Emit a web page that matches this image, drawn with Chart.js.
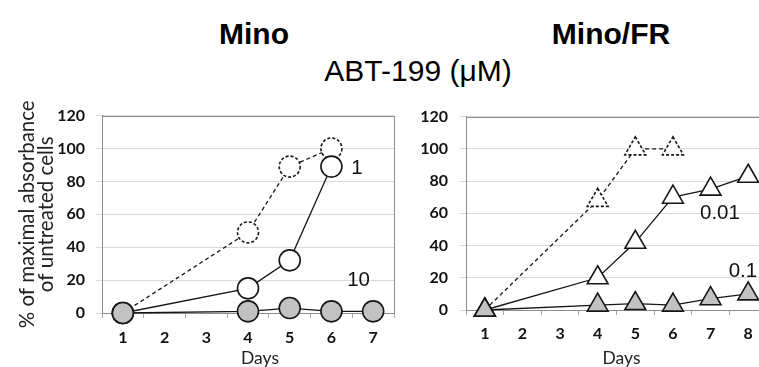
<!DOCTYPE html>
<html>
<head>
<meta charset="utf-8">
<title>ABT-199 growth curves</title>
<script src="https://cdn.jsdelivr.net/npm/chart.js@4.4.1/dist/chart.umd.min.js"></script>
<style>
  html, body { margin: 0; padding: 0; background: #fff; }
  body { width: 759px; height: 367px; overflow: hidden; position: relative;
         font-family: "Liberation Sans", Arial, sans-serif; color: #000; }
  .ttl { position: absolute; white-space: nowrap; font-size: 30px; line-height: 30px;
         transform: translateX(-50%); }
  .ttl.bold { font-weight: bold; }
  .panel { position: absolute; top: 95px; height: 272px; }
  #minoBox { left: 0; width: 400px; }
  #frBox { left: 400px; width: 370px; }
</style>
</head>
<body>
<div class="ttl bold" style="left:254px; top:19px;">Mino</div>
<div class="ttl bold" style="left:611px; top:19px;">Mino/FR</div>
<div class="ttl" style="left:418px; top:56px;">ABT-199 (μM)</div>

<div class="panel" id="minoBox"><canvas id="mino" width="400" height="272"></canvas></div>
<div class="panel" id="frBox"><canvas id="fr" width="370" height="272"></canvas></div>

<script>
// Day labels of the two time courses
const minoDays = ['1', '2', '3', '4', '5', '6', '7'];
const frDays = ['1', '2', '3', '4', '5', '6', '7', '8'];

// Value axis: % of maximal absorbance of untreated cells
const yMin = 0;
const yMax = 120;
const yStep = 20;

// Mino (null = day not measured)
const minoUntreated = [0, null, null, 49, 89, 100, null];
const mino1uM      = [0, null, null, 15, 32, 89, null];
const mino10uM     = [0, null, null, 1, 3, 1, 1];

// Mino/FR
const frUntreated = [0, null, null, 68, 100, 100, null, null];
const fr001uM     = [0, null, null, 20, 42, 70, 75, 83];
const fr01uM      = [0, null, null, 3, 4, 3, 7, 10];

// ABT-199 concentrations written next to the curves (µM)
const minoDoses = ['1', '10'];
const frDoses = ['0.01', '0.1'];

const INK = '#161616';
const GREY_FILL = '#c2c2c2';
const FRAME = '#8c8c8c';
const GRID = '#d9d9d9';
const TICK_FONT = { family: 'Lato', size: 16, weight: 'bold' };

// Dashed outline for markers: points are drawn after the line has restored
// its own dash, so the marker strokes pick up whatever dash is set here.
const markerDash = {
  id: 'markerDash',
  beforeDatasetDraw(chart, args) {
    const ds = chart.data.datasets[args.index];
    chart.ctx.save();
    if (ds.markerDash) chart.ctx.setLineDash(ds.markerDash);
  },
  afterDatasetDraw(chart) {
    chart.ctx.restore();
  }
};

// Full box around the plotting area
const plotFrame = {
  id: 'plotFrame',
  beforeDatasetsDraw(chart) {
    const a = chart.chartArea, ctx = chart.ctx;
    ctx.save();
    ctx.strokeStyle = FRAME;
    ctx.lineWidth = 1;
    ctx.strokeRect(Math.round(a.left) + 0.5, Math.round(a.top) + 0.5,
                   Math.round(a.right - a.left), Math.round(a.bottom - a.top));
    ctx.restore();
  }
};

// Dose captions placed in data space, plus the "Days" caption under the axis
const captions = {
  id: 'captions',
  afterDraw(chart, args, opts) {
    const ctx = chart.ctx, xs = chart.scales.x, ys = chart.scales.y;
    ctx.save();
    ctx.fillStyle = '#111';
    ctx.textAlign = 'center';
    ctx.textBaseline = 'middle';
    ctx.font = '20.5px "Liberation Sans", Arial, sans-serif';
    (opts.doses || []).forEach(d => {
      ctx.fillText(d.text, xs.getPixelForValue(d.x), ys.getPixelForValue(d.y));
    });
    ctx.font = '17.5px Lato, sans-serif';
    ctx.fillStyle = '#222';
    const a = chart.chartArea;
    ctx.fillText('Days', (a.left + a.right) / 2 + (opts.daysShift || 0), opts.daysY);
    ctx.restore();
  }
};

function series(data, style) {
  return Object.assign({
    data: data,
    spanGaps: true,
    borderColor: INK,
    borderWidth: 1.3,
    pointBorderColor: INK,
    pointBorderWidth: 1.6,
    pointBackgroundColor: '#ffffff',
    clip: false,
    tension: 0
  }, style);
}

function makeChart(canvasId, labels, datasets, cfg) {
  return new Chart(document.getElementById(canvasId), {
    type: 'line',
    data: { labels: labels, datasets: datasets },
    options: {
      responsive: false,
      animation: false,
      events: [],
      layout: { padding: cfg.padding, autoPadding: false },
      plugins: {
        legend: { display: false },
        tooltip: { enabled: false },
        captions: cfg.captions
      },
      scales: {
        x: {
          type: 'category',
          offset: true,
          grid: { display: true, offset: true, drawOnChartArea: false, drawTicks: true,
                  tickLength: 5, color: '#a6a6a6' },
          border: { display: true, color: FRAME },
          ticks: { font: TICK_FONT, color: '#111', padding: cfg.xPad, maxRotation: 0, autoSkip: false },
          afterFit(s) { s.height = cfg.xHeight; }
        },
        y: {
          min: yMin, max: yMax,
          grid: { color: GRID, tickLength: 6, drawTicks: true },
          border: { display: true, color: FRAME },
          ticks: { stepSize: yStep, font: TICK_FONT, color: '#111', padding: cfg.yPad },
          title: cfg.yTitle,
          afterFit(s) { s.width = cfg.yWidth; }
        }
      }
    },
    plugins: [markerDash, plotFrame, captions]
  });
}

function build() {
  makeChart('mino', minoDays, [
    series(mino10uM, { pointStyle: 'circle', pointRadius: 10.5, pointBackgroundColor: GREY_FILL }),
    series(mino1uM, { pointStyle: 'circle', pointRadius: 10.5 }),
    series(minoUntreated, { pointStyle: 'circle', pointRadius: 10.5, borderDash: [4, 3],
                            markerDash: [3, 2] })
  ], {
    padding: { left: 0, top: 18, right: 6, bottom: 0 },
    xHeight: 54, yWidth: 102, xPad: 10, yPad: 11,
    yTitle: {
      display: true,
      text: ['% of maximal absorbance', 'of untreated cells'],
      font: { family: 'Lato', size: 20.5, lineHeight: 0.92 },
      color: '#222',
      padding: { top: 18, bottom: 0 }
    },
    captions: {
      doses: [
        { text: minoDoses[0], x: 5.61, y: 88 },
        { text: minoDoses[1], x: 5.65, y: 20 }
      ],
      daysShift: 12, daysY: 263
    }
  });

  makeChart('fr', frDays, [
    series(fr01uM, { pointStyle: 'triangle', pointRadius: 12, pointBackgroundColor: GREY_FILL }),
    series(fr001uM, { pointStyle: 'triangle', pointRadius: 12 }),
    series(frUntreated, { pointStyle: 'triangle', pointRadius: 12, borderDash: [4, 3],
                          markerDash: [3, 2] })
  ], {
    padding: { left: 0, top: 16, right: 3, bottom: 0 },
    xHeight: 57, yWidth: 66, xPad: 9, yPad: 12,
    yTitle: { display: false },
    captions: {
      doses: [
        { text: frDoses[0], x: 6.25, y: 60 },
        { text: frDoses[1], x: 6.86, y: 24 }
      ],
      daysShift: 5, daysY: 263
    }
  });
}

const fontsReady = document.fonts
  ? Promise.all([
      document.fonts.load('bold 16px Lato'),
      document.fonts.load('17px Lato'),
      document.fonts.load('20px "Liberation Sans"')
    ]).catch(() => {})
  : Promise.resolve();
fontsReady.then(build);
</script>
</body>
</html>
